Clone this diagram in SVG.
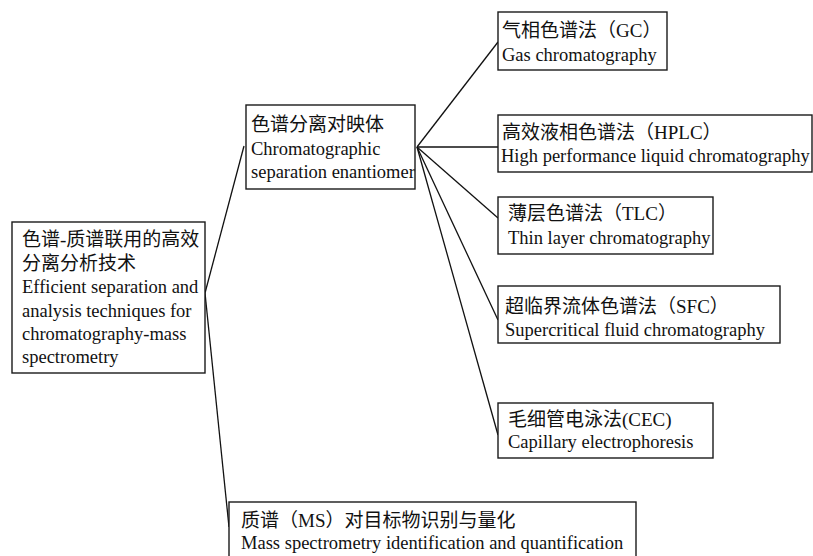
<svg xmlns="http://www.w3.org/2000/svg" width="813" height="556" viewBox="0 0 813 556">
<style>
.box{fill:#fff;stroke:#1a1a1a;stroke-width:1.4}
.t{font-family:"Liberation Serif","Noto Sans CJK SC",serif;font-size:18.5px;fill:#111}
.c{font-family:"Liberation Serif","Noto Sans CJK SC",serif;font-size:19px;fill:#111}
.ln{stroke:#111;stroke-width:1.3;fill:none}
</style>
<rect width="813" height="556" fill="#fff"/>
<g id="connectors">
<line class="ln" x1="205" y1="293" x2="244" y2="146"/>
<line class="ln" x1="205" y1="293" x2="229" y2="527"/>
<line class="ln" x1="417" y1="147" x2="498" y2="42"/>
<line class="ln" x1="417" y1="147" x2="498" y2="147"/>
<line class="ln" x1="417" y1="147" x2="498" y2="218"/>
<line class="ln" x1="417" y1="147" x2="498" y2="320"/>
<line class="ln" x1="417" y1="147" x2="498" y2="435"/>
</g>
<g id="root">
<rect class="box" x="12" y="222" width="193" height="151"/>
<text class="c" x="22" y="246">色谱-质谱联用的高效</text>
<text class="c" x="22" y="270">分离分析技术</text>
<text class="t" x="22" y="293">Efficient separation and</text>
<text class="t" x="22" y="317">analysis techniques for</text>
<text class="t" x="22" y="340">chromatography-mass</text>
<text class="t" x="22" y="363">spectrometry</text>
</g>
<g id="chrom">
<text class="c" x="251" y="131">色谱分离对映体</text>
<text class="t" x="251" y="155">Chromatographic</text>
<text class="t" x="251" y="178">separation enantiomer</text>
<rect x="246" y="105" width="169" height="84" fill="none" stroke="#1a1a1a" stroke-width="1.4"/>
</g>
<g id="gc">
<rect class="box" x="498" y="12" width="169" height="58"/>
<text class="c" x="502" y="37">气相色谱法（GC）</text>
<text class="t" x="502" y="61">Gas chromatography</text>
</g>
<g id="hplc">
<rect class="box" x="498" y="115" width="314" height="57"/>
<text class="c" x="502" y="139">高效液相色谱法（HPLC）</text>
<text class="t" x="501" y="162">High performance liquid chromatography</text>
</g>
<g id="tlc">
<rect class="box" x="498" y="197" width="215" height="57"/>
<text class="c" x="508" y="220">薄层色谱法（TLC）</text>
<text class="t" x="508" y="244">Thin layer chromatography</text>
</g>
<g id="sfc">
<rect class="box" x="498" y="286" width="282" height="57"/>
<text class="c" x="505" y="313">超临界流体色谱法（SFC）</text>
<text class="t" x="505" y="336">Supercritical fluid chromatography</text>
</g>
<g id="cec">
<rect class="box" x="498" y="403" width="215" height="55"/>
<text class="c" x="508" y="426">毛细管电泳法(CEC)</text>
<text class="t" x="508" y="448">Capillary electrophoresis</text>
</g>
<g id="ms">
<rect class="box" x="229" y="502" width="407" height="60"/>
<text class="c" x="241" y="527">质谱（MS）对目标物识别与量化</text>
<text class="t" x="241" y="549">Mass spectrometry identification and quantification</text>
</g>
</svg>
